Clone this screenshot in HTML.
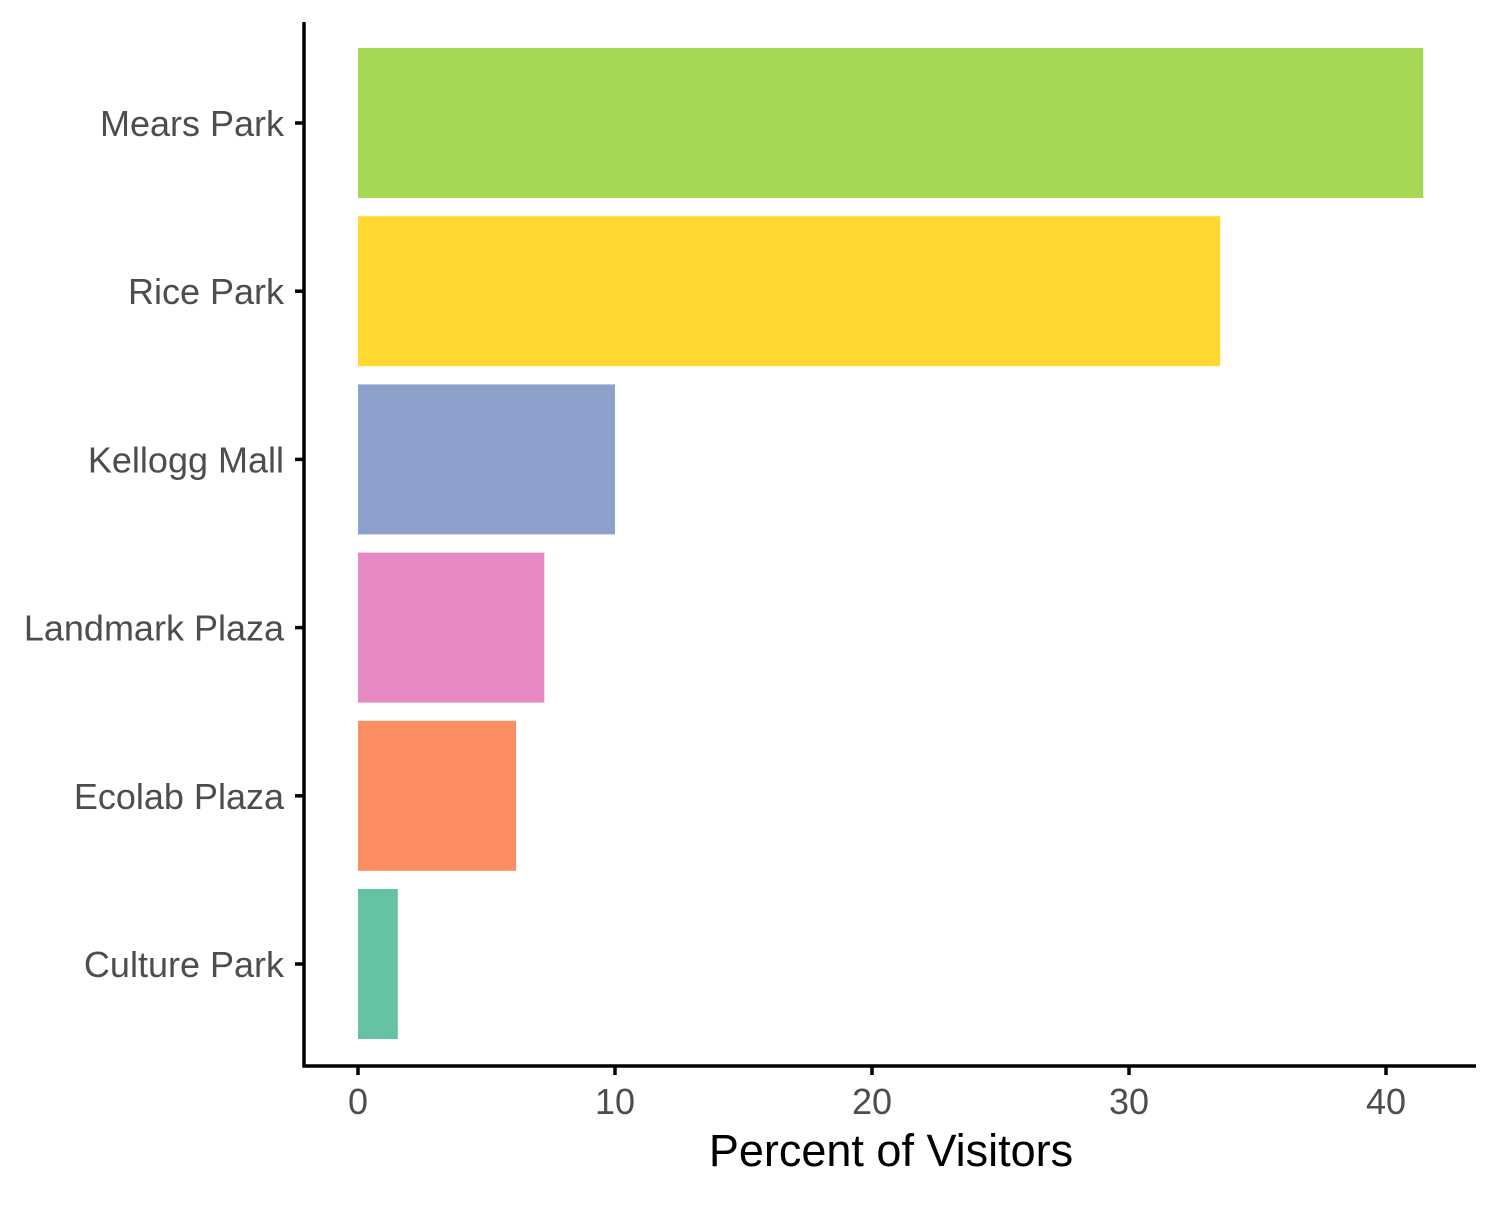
<!DOCTYPE html>
<html><head><meta charset="utf-8"><style>
html,body{margin:0;padding:0;background:#fff;}
svg text{font-family:"Liberation Sans",sans-serif;}
</style></head><body>
<svg id="chart" width="1500" height="1200" xmlns="http://www.w3.org/2000/svg">
<g id="bars"></g>
<g id="yaxis"></g>
<g id="xaxis"></g>
<text x="891" y="1166" font-size="45" text-anchor="middle" fill="#000">Percent of Visitors</text>
</svg>
<script>
const categories = ["Mears Park","Rice Park","Kellogg Mall","Landmark Plaza","Ecolab Plaza","Culture Park"];
const values = [41.45, 33.55, 10.0, 7.25, 6.15, 1.55];
const colors = ["#a6d854","#ffd92f","#8da0cb","#e78ac3","#fc8d62","#66c2a5"];
const xTicks = [0,10,20,30,40];
const NS="http://www.w3.org/2000/svg";
function x(v){return 358+v*25.7;}
function yc(i){return 123+i*168.2;}
const bars=document.getElementById('bars'),ya=document.getElementById('yaxis'),xa=document.getElementById('xaxis');
function mk(tag,attrs,parent){const e=document.createElementNS(NS,tag);for(const k in attrs)e.setAttribute(k,attrs[k]);parent.appendChild(e);return e;}
categories.forEach((c,i)=>{
  const r=mk('rect',{x:x(0),y:yc(i)-75,width:x(values[i])-x(0),height:150,fill:colors[i]},bars);
  
  
  const t=mk('line',{x1:295,x2:304,y1:yc(i),y2:yc(i),stroke:'#000','stroke-width':3.5},ya);
  
  
  const l=mk('text',{x:284,y:yc(i)+13,'font-size':36,'text-anchor':'end',fill:'#4d4d4d'},ya);
  l.textContent=c;
  
  
});
xTicks.forEach(v=>{
  const t=mk('line',{x1:x(v),x2:x(v),y1:1066,y2:1075,stroke:'#000','stroke-width':3.5},xa);
  
  
  const l=mk('text',{x:x(v),y:1114,'font-size':36,'text-anchor':'middle',fill:'#4d4d4d'},xa);
  l.textContent=v;
  
  
});
const al=mk('line',{x1:304,x2:304,y1:22,y2:1067.5,stroke:'#000','stroke-width':3.5},ya);


const bl=mk('line',{x1:302.5,x2:1476,y1:1066,y2:1066,stroke:'#000','stroke-width':3.5},xa);


</script>
</body></html>
